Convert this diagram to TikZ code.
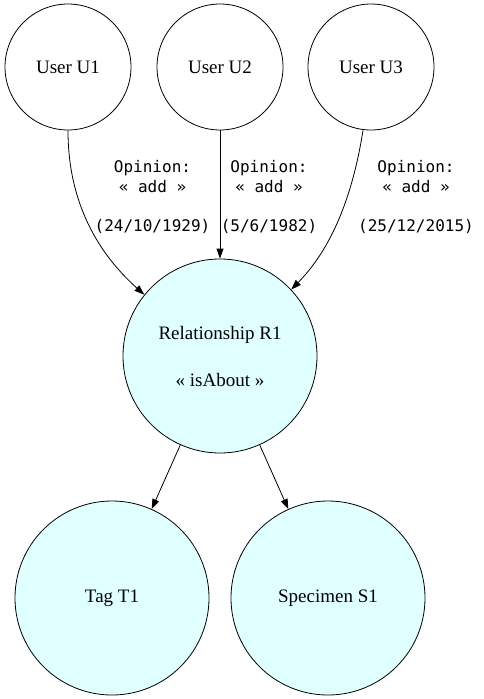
\documentclass[tikz,border=0pt]{standalone}
\usepackage{fontspec}
\setmainfont{Liberation Serif}
\newfontfamily\lblfont{DejaVu Sans Mono}
\usetikzlibrary{arrows.meta}
\definecolor{lcyan}{HTML}{E0FFFF}
\begin{document}
\begin{tikzpicture}[x=1pt,y=-1pt,
  ent/.style={circle,draw=black,line width=0.8pt,inner sep=0pt,font=\fontsize{19}{23.5}\selectfont,align=center},
  user/.style={ent,minimum size=126pt},
  big/.style={ent,minimum size=194pt,fill=lcyan},
  lbl/.style={inner sep=0pt,align=center,font=\lblfont\fontsize{16}{19.5}\selectfont},
  conn/.style={line width=0.8pt,-{Triangle[length=10pt,width=7pt]}}]
\useasboundingbox (0,0) rectangle (483,699);
\node[user] (U1) at (68,67) {User U1};
\node[user] (U2) at (220,67) {User U2};
\node[user] (U3) at (371,67) {User U3};
\node[big] (R1) at (220,356) {Relationship R1\\[23.5pt]« isAbout »};
\node[big] (T1) at (112,598) {Tag T1};
\node[big] (S1) at (328,598) {Specimen S1};
\draw[conn] (U1.south) .. controls (68,205) and (100,255) .. (R1.141.8);
\draw[conn] (U2.south) -- (R1.north);
\draw[conn] (U3.south) ++(-8,0) coordinate (u3s) (u3s) .. controls (352,200) and (330,250) .. (R1.43.3);
\draw[conn] (R1) -- (T1);
\draw[conn] (R1) -- (S1);
\node[lbl] (L1) at (152.5,197) {Opinion:\\« add »\\[19.5pt](24/10/1929)};
\node[lbl] (L2) at (269,197) {Opinion:\\« add »\\[19.5pt](5/6/1982)};
\node[lbl] (L3) at (416,197) {Opinion:\\« add »\\[19.5pt](25/12/2015)};
\end{tikzpicture}
\end{document}
